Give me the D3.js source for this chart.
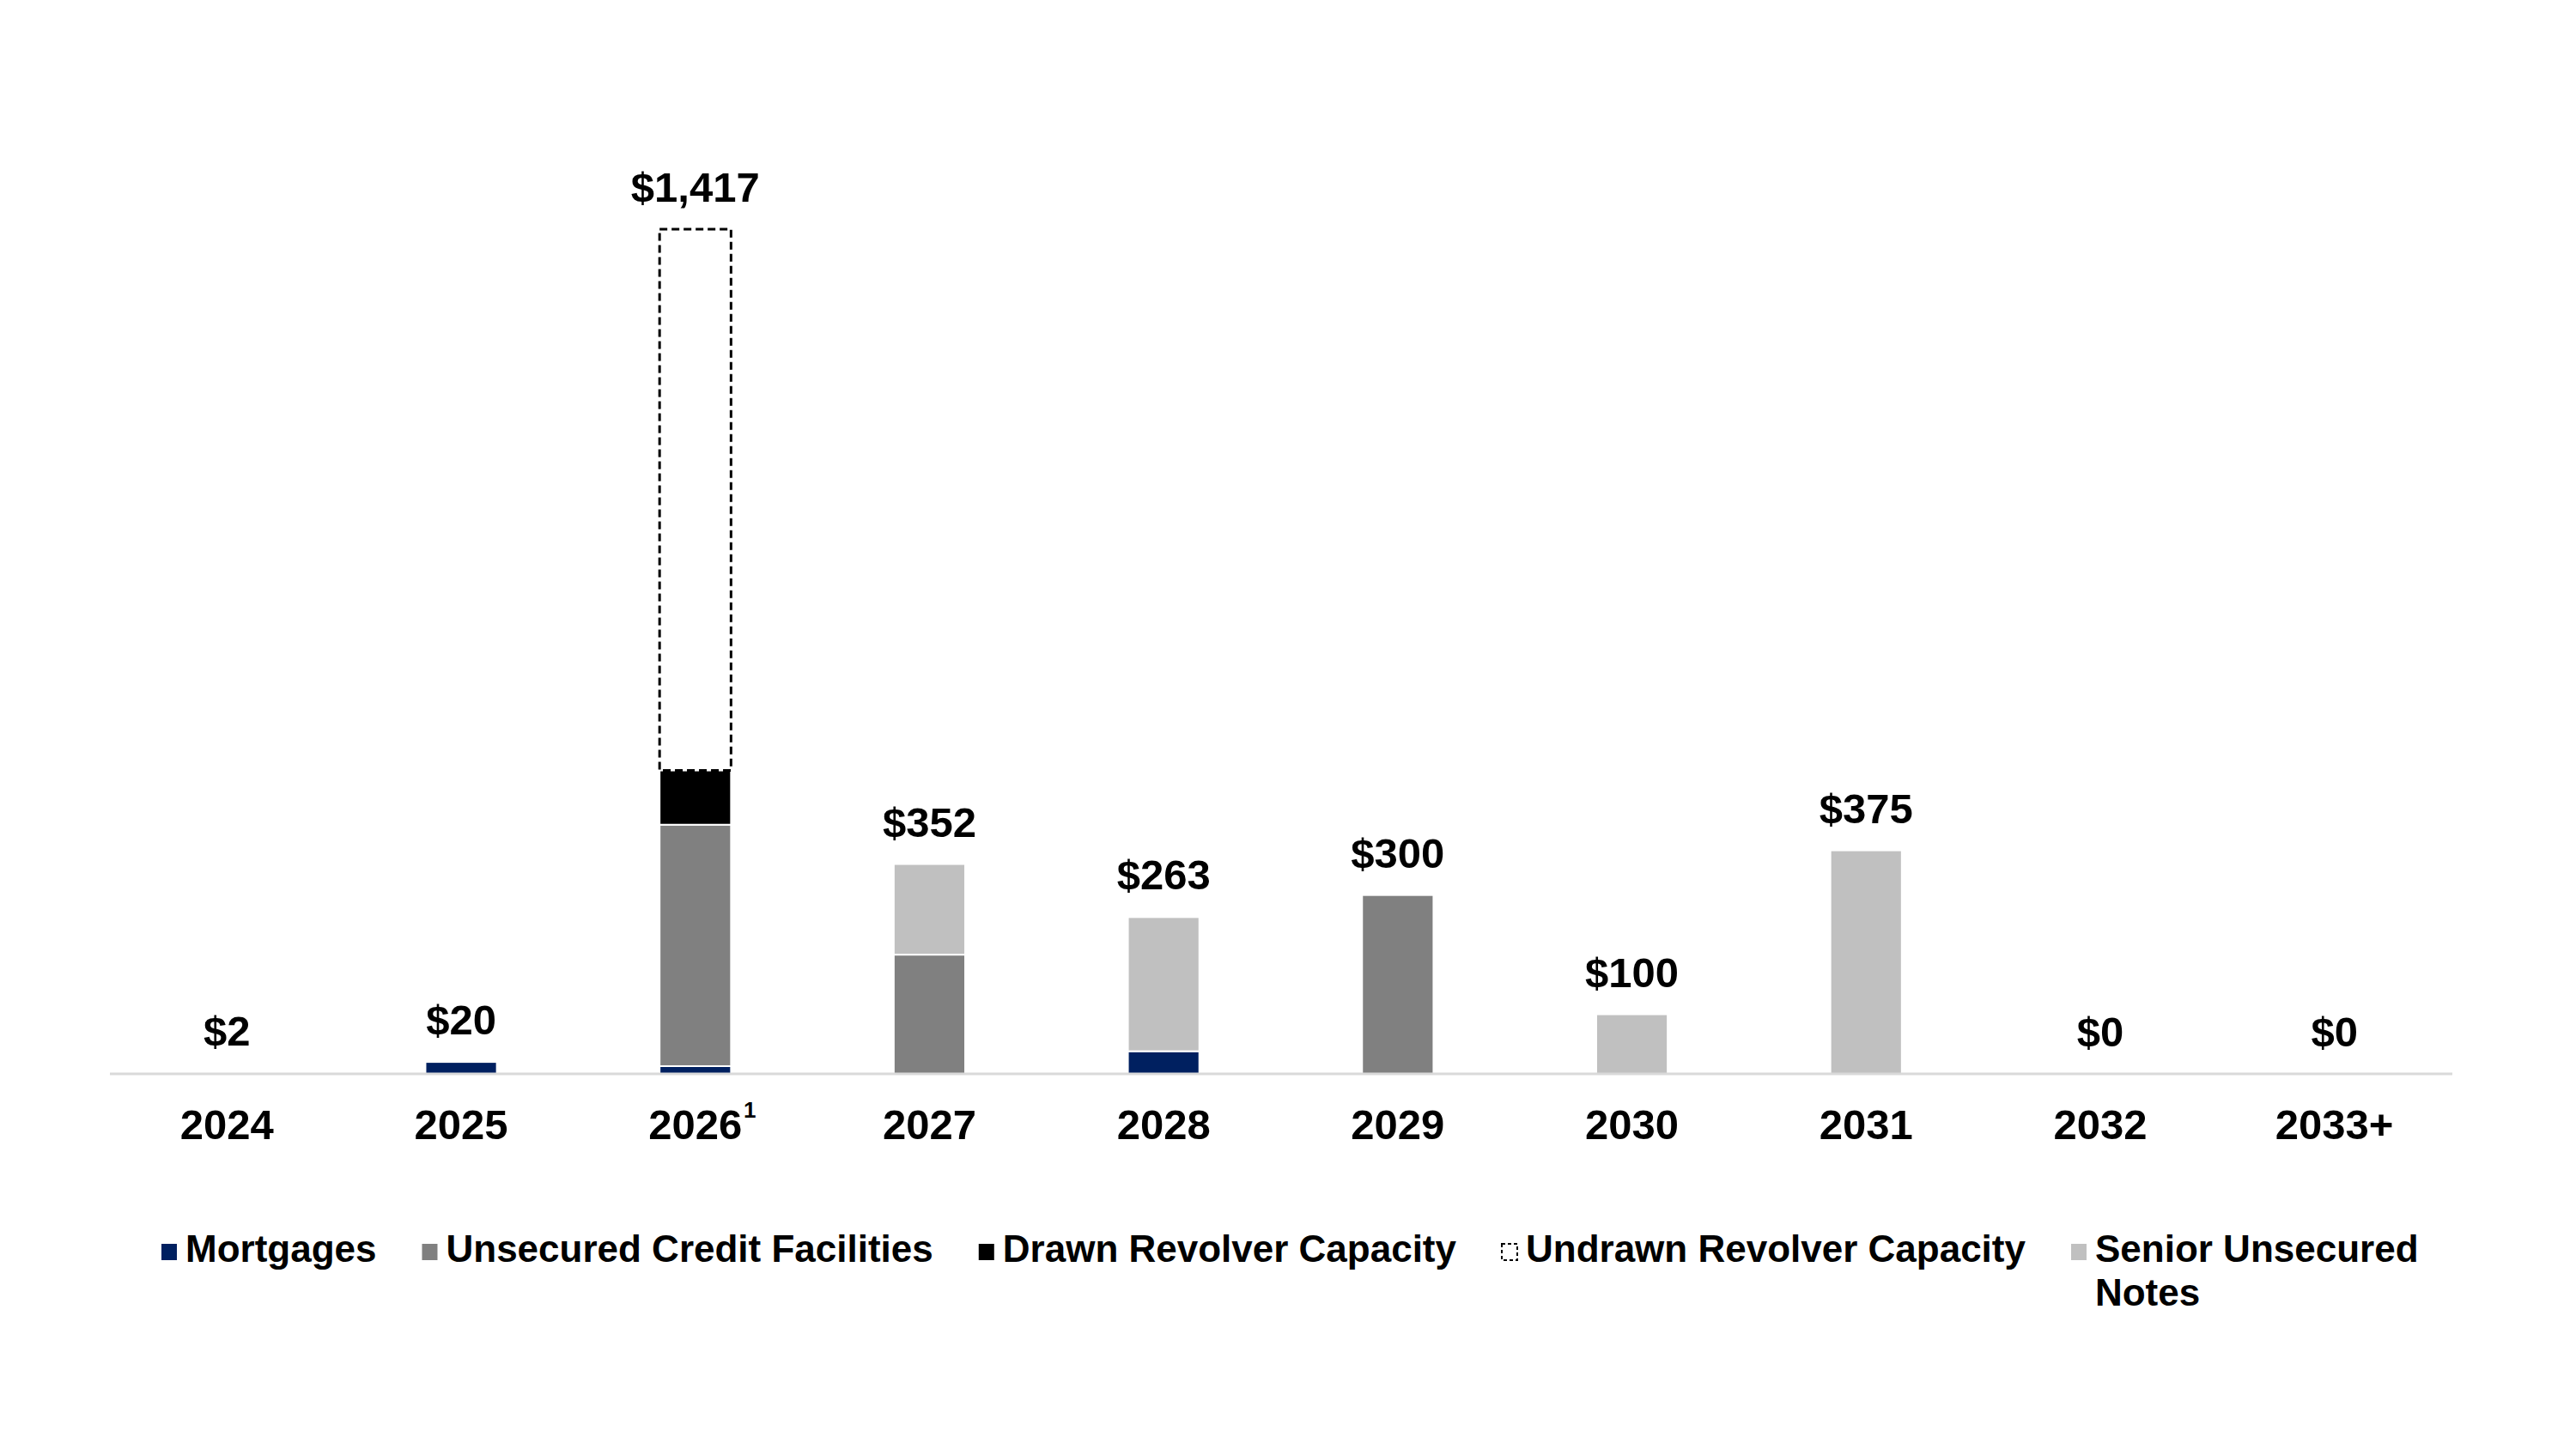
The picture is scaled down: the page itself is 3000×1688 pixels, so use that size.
<!DOCTYPE html>
<html lang="en">
<head>
    <meta charset="UTF-8">
    <title>Debt Maturity Schedule</title>
    <script src="https://d3js.org/d3.v7.min.js"></script>
    <style>
        body { margin: 0; background: #fff; }
        text {
            font-family: "Liberation Sans", Arial, sans-serif;
            font-weight: bold;
            fill: #000;
        }
    </style>
</head>
<body>
<div id="chart"></div>
<script>
    // Maturities in $ millions
    const years = ["2024", "2025", "2026", "2027", "2028", "2029", "2030", "2031", "2032", "2033+"];
    const footnotes = ["", "", "1", "", "", "", "", "", "", ""];
    const mortgages = [2, 20, 13, 0, 38, 0, 0, 0, 0, 0];
    const unsecuredFacilities = [0, 0, 405, 200, 0, 300, 0, 0, 0, 0];
    const drawnRevolver = [0, 0, 91, 0, 0, 0, 0, 0, 0, 0];
    const undrawnRevolver = [0, 0, 908, 0, 0, 0, 0, 0, 0, 0];
    const seniorNotes = [0, 0, 0, 152, 225, 0, 100, 375, 0, 0];

    const seriesKeys = ["mortgages", "unsecured", "drawn", "undrawn", "notes"];
    const seriesNames = ["Mortgages", "Unsecured Credit Facilities", "Drawn Revolver Capacity",
        "Undrawn Revolver Capacity", "Senior Unsecured\nNotes"];
    const seriesColors = ["#002060", "#808080", "#000000", "#ffffff", "#c0c0c0"];

    const rows = years.map((y, i) => ({
        year: y,
        mortgages: mortgages[i],
        unsecured: unsecuredFacilities[i],
        drawn: drawnRevolver[i],
        undrawn: undrawnRevolver[i],
        notes: seniorNotes[i]
    }));
    rows.forEach(r => r.total = d3.sum(seriesKeys, k => r[k]));

    const W = 3000, H = 1688;
    const svg = d3.select("#chart").append("svg")
        .attr("width", W)
        .attr("height", H);

    const x = d3.scaleBand()
        .domain(years)
        .range([128, 2855])
        .paddingInner(0.695)
        .paddingOuter(0.3475);

    const y = d3.scaleLinear()
        .domain([0, d3.max(rows, r => r.total)])
        .range([1251, 267]);

    const stacked = d3.stack().keys(seriesKeys)(rows);

    // bars
    const layers = svg.append("g").selectAll("g")
        .data(stacked)
        .enter().append("g")
        .attr("fill", (d, i) => seriesColors[i]);

    layers.selectAll("rect")
        .data(d => d.map(p => ({ key: d.key, p: p })))
        .enter().filter(d => d.p[1] - d.p[0] > 0)
        .append("rect")
        .attr("x", d => x(d.p.data.year))
        .attr("width", x.bandwidth())
        .attr("y", d => y(d.p[1]))
        .attr("height", d => y(d.p[0]) - y(d.p[1]))
        .attr("stroke", d => d.key === "undrawn" ? "#000" : "#fff")
        .attr("stroke-width", d => d.key === "undrawn" ? 3 : 2)
        .attr("stroke-dasharray", d => d.key === "undrawn" ? "9,5" : null);

    // baseline
    svg.append("line")
        .attr("x1", 128).attr("x2", 2856)
        .attr("y1", y(0)).attr("y2", y(0))
        .attr("stroke", "#d9d9d9")
        .attr("stroke-width", 3);

    // totals
    const fmt = d3.format("$,");
    svg.append("g").selectAll("text")
        .data(rows)
        .enter().append("text")
        .attr("x", d => x(d.year) + x.bandwidth() / 2)
        .attr("y", d => y(d.total) - 32)
        .attr("text-anchor", "middle")
        .attr("font-size", 49)
        .text(d => fmt(d.total));

    // x axis labels
    const axis = svg.append("g")
        .attr("transform", "translate(0,1327)")
        .call(d3.axisBottom(x).tickSize(0).tickPadding(0));
    axis.select(".domain").remove();
    axis.selectAll("text")
        .attr("dy", 0)
        .attr("y", 0)
        .attr("font-size", 49)
        .attr("font-family", "Liberation Sans, Arial, sans-serif")
        .attr("font-weight", "bold")
        .attr("fill", "#000");

    // footnote marks
    axis.selectAll(".tick").each(function (d, i) {
        if (!footnotes[i]) return;
        const t = d3.select(this).select("text").node();
        const w = t.getComputedTextLength();
        d3.select(this).append("text")
            .attr("x", w / 2 + 9)
            .attr("y", -25)
            .attr("font-size", 26)
            .attr("font-weight", "normal")
            .text(footnotes[i]);
    });

    // legend
    const legend = svg.append("g").attr("transform", "translate(188,1470)");
    let lx = 0;
    seriesKeys.forEach((k, i) => {
        const g = legend.append("g").attr("transform", `translate(${lx},0)`);
        g.append("rect")
            .attr("x", 0).attr("y", -21)
            .attr("width", 18).attr("height", 19)
            .attr("fill", seriesColors[i])
            .attr("stroke", k === "undrawn" ? "#000" : "none")
            .attr("stroke-width", k === "undrawn" ? 2 : 0)
            .attr("stroke-dasharray", k === "undrawn" ? "4,3" : null);
        const t = g.append("text")
            .attr("x", 28)
            .attr("font-size", 44);
        seriesNames[i].split("\n").forEach((line, j) => {
            t.append("tspan")
                .attr("x", 28)
                .attr("dy", j === 0 ? 0 : 51)
                .text(line);
        });
        const w = d3.max(t.selectAll("tspan").nodes(), n => n.getComputedTextLength());
        lx += 28 + w + 53;
    });
</script>
</body>
</html>
